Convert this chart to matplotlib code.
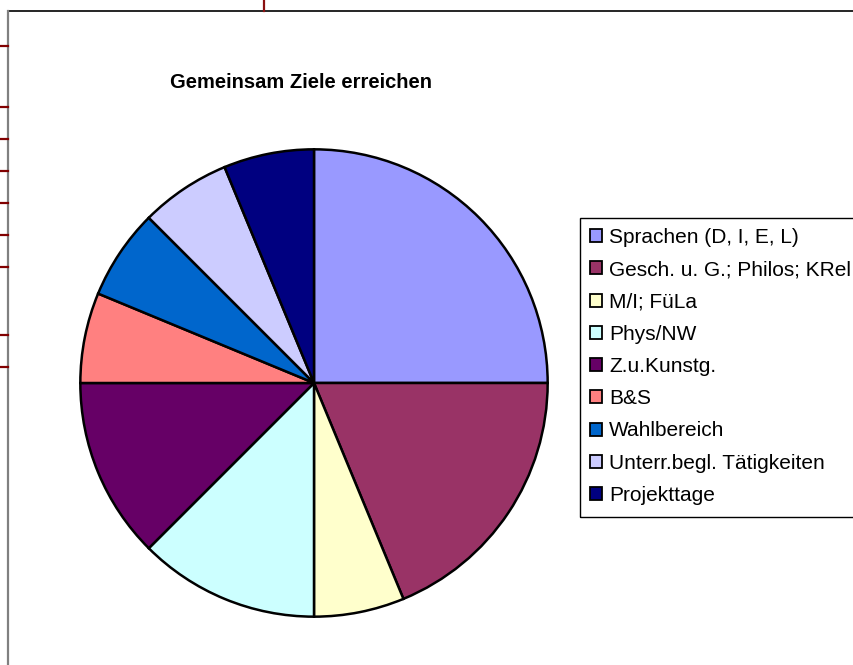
import matplotlib
matplotlib.use("Agg")
import matplotlib.pyplot as plt
from matplotlib.lines import Line2D
from matplotlib.patches import Rectangle

plt.rcParams['font.family'] = ['Liberation Sans', 'DejaVu Sans']

title = "Gemeinsam Ziele erreichen"
categories = ["Sprachen (D, I, E, L)", "Gesch. u. G.; Philos; KRel", "M/I; FüLa",
              "Phys/NW", "Z.u.Kunstg.", "B&S", "Wahlbereich",
              "Unterr.begl. Tätigkeiten", "Projekttage"]
values = [4, 3, 1, 2, 2, 1, 1, 1, 1]
colors = ["#9999FF", "#993366", "#FFFFCC", "#CCFFFF", "#660066",
          "#FF8080", "#0066CC", "#CCCCFF", "#000080"]

W, H = 854, 665
fig = plt.figure(figsize=(W / 100, H / 100), dpi=100)

# pie axes: centre (314, 383) px, radius 236 px
cx, cy, r = 314, 383, 236
ax = fig.add_axes([(cx - r) / W, (H - cy - r) / H, 2 * r / W, 2 * r / H])
wedges, _ = ax.pie(values, colors=colors, startangle=90, counterclock=False,
                   radius=1.0, wedgeprops=dict(edgecolor="black", linewidth=1.8))
ax.set_xlim(-1.01, 1.01)
ax.set_ylim(-1.01, 1.01)
ax.set_aspect("equal")
ax.axis("off")

fig.text(301 / W, 1 - 82 / H, title, ha="center", va="center",
         fontsize=14.5, fontweight="bold")

leg = fig.legend(wedges, categories, loc="upper left",
                 bbox_to_anchor=(580 / W, 1 - 218 / H), bbox_transform=fig.transFigure,
                 borderaxespad=0, frameon=False, fontsize=15,
                 handlelength=0.58, handleheight=0.58, handletextpad=0.33,
                 labelspacing=0.635, borderpad=0.48)
for h in leg.legend_handles:
    h.set_edgecolor("black")
    h.set_linewidth(1.3)

# legend frame extending past the right edge, as in the original
fig.add_artist(Rectangle((580 / W, 1 - 517 / H), 300 / W, (517 - 218) / H,
                         transform=fig.transFigure, fill=False,
                         edgecolor="black", linewidth=1.0))

# decorative chart-area borders
def px_line(x0, y0, x1, y1, color, lw):
    fig.add_artist(Line2D([x0 / W, x1 / W], [1 - y0 / H, 1 - y1 / H],
                          transform=fig.transFigure, color=color, lw=lw))

px_line(8, 11, 854, 11, "black", 1.2)
px_line(8, 11, 8, 665, "#808080", 1.6)
px_line(264, 0, 264, 11, "#8B1010", 1.6)
for ty in [46, 107, 139, 171, 203, 235, 267, 335, 367]:
    px_line(0, ty, 8, ty, "#800000", 1.6)

fig.savefig("out.png", dpi=100)
